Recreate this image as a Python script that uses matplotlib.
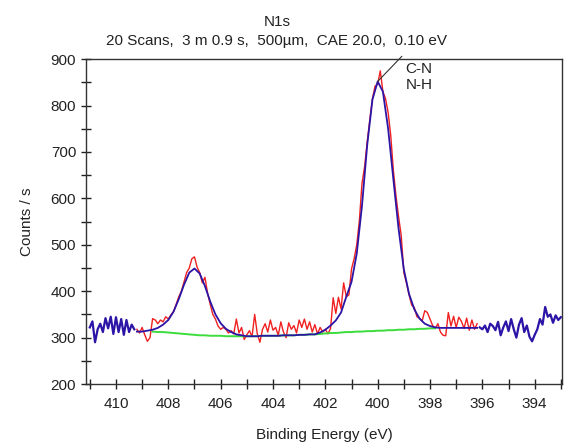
"""
XPS N1s 谱图复现
"""

import numpy as np
import matplotlib.pyplot as plt
from matplotlib.ticker import MultipleLocator

plt.rcParams['font.family'] = ['Liberation Sans', 'DejaVu Sans']
plt.rcParams['font.size'] = 11

# 原始计数 (步长 0.1 eV)
left_start = 411.0          # 拟合区左侧, 411.0 -> 409.3
left_counts = [322, 335, 290, 318, 330, 312, 342, 320, 345, 308,
               344, 312, 340, 306, 338, 312, 328, 318]

region_start = 409.2        # 拟合区, 409.2 -> 396.2
region_counts = [318, 310, 322, 306, 292, 300, 341, 338, 330, 338,
                 334, 345, 340, 349, 356, 372, 388, 400, 420, 440,
                 450, 470, 474, 452, 440, 418, 430, 396, 372, 350,
                 340, 325, 318, 322, 318, 310, 315, 308, 340, 310,
                 322, 296, 306, 315, 302, 350, 308, 290, 318, 330,
                 312, 338, 316, 322, 305, 334, 312, 300, 332, 318,
                 326, 310, 338, 322, 340, 318, 334, 312, 328, 308,
                 322, 312, 318, 308, 320, 386, 352, 387, 362, 418,
                 388, 392, 448, 470, 500, 552, 632, 668, 722, 770,
                 815, 842, 846, 875, 830, 815, 785, 735, 660, 605,
                 560, 520, 440, 418, 392, 370, 365, 345, 342, 336,
                 358, 354, 340, 326, 320, 330, 312, 305, 304, 354,
                 325, 346, 322, 344, 335, 320, 342, 316, 338, 318,
                 330]

right_start = 396.1         # 拟合区右侧, 396.1 -> 393.0
right_counts = [322, 318, 326, 312, 330, 325, 316, 334, 305, 322,
                335, 314, 340, 318, 300, 328, 342, 312, 326, 302,
                292, 306, 318, 340, 328, 366, 345, 350, 332, 348,
                338, 344]

# 拟合包络 (步长 0.2 eV, 409.2 -> 396.2)
fit_start = 409.2
envelope = [313, 313, 315, 317, 321, 328, 338, 356, 383, 414,
            440, 449, 438, 411, 378, 350, 331, 319, 312, 307,
            305, 303, 303, 303, 304, 304, 304, 304, 305, 305,
            305, 306, 306, 307, 307, 311, 317, 326, 337, 354,
            388, 420, 481, 584, 715, 813, 852, 830, 750, 641,
            534, 447, 394, 361, 341, 330, 325, 322, 321, 321,
            321, 321, 321, 321, 321, 321]

# Shirley 背景 (步长 0.2 eV, 408.6 -> 397.8)
bg_start = 408.6
background = [313, 312, 312, 311, 310, 309, 308, 307, 306, 305,
              305, 304, 304, 304, 303, 303, 303, 303, 303, 303,
              303, 304, 304, 304, 304, 305, 305, 305, 306, 306,
              307, 307, 308, 309, 310, 310, 311, 312, 312, 313,
              313, 314, 314, 315, 315, 316, 316, 317, 317, 318,
              318, 319, 319, 320, 320]


def energy_axis(start, step, n):
    return np.round(start - step * np.arange(n), 2)


fig = plt.figure(figsize=(5.65, 4.45), dpi=100)
ax = fig.add_axes([0.152, 0.137, 0.843, 0.730])

ax.plot(energy_axis(left_start, 0.1, len(left_counts)), left_counts,
        color='#2b14a6', lw=1.6)
ax.plot(energy_axis(right_start, 0.1, len(right_counts)), right_counts,
        color='#2b14a6', lw=1.6)
ax.plot(energy_axis(region_start, 0.1, len(region_counts)), region_counts,
        color='#f02020', lw=1.0)
ax.plot(energy_axis(bg_start, 0.2, len(background)), background,
        color='#3cdc3c', lw=1.4)
ax.plot(energy_axis(fit_start, 0.2, len(envelope)), envelope,
        color='#2b14a6', lw=1.3)

# 峰标注
ax.plot([400.0, 399.08], [852, 906], color='#333333', lw=0.8, clip_on=False)
ax.text(398.93, 862, 'C-N\nN-H', color='#222222',
        ha='left', va='center', linespacing=1.15)

ax.set_xlim(411.15, 392.95)
ax.set_ylim(200, 900)
ax.xaxis.set_major_locator(MultipleLocator(2))
ax.xaxis.set_minor_locator(MultipleLocator(1))
ax.yaxis.set_major_locator(MultipleLocator(100))
ax.yaxis.set_minor_locator(MultipleLocator(50))
ax.tick_params(which='both', direction='inout', length=7, width=1,
               colors='#222222', labelsize=11)
ax.tick_params(axis='x', pad=6)

for s in ax.spines.values():
    s.set_linewidth(1.0)
    s.set_color('#333333')

ax.set_xlabel('Binding Energy (eV)', color='#222222', labelpad=12)
ax.set_ylabel('Counts / s', color='#222222', labelpad=12)

fig.text(0.49, 0.951, 'N1s', ha='center', va='center', color='#222222')
fig.text(0.49, 0.908, '20 Scans,  3 m 0.9 s,  500µm,  CAE 20.0,  0.10 eV',
         ha='center', va='center', color='#222222')

plt.savefig('out.png', dpi=100)
